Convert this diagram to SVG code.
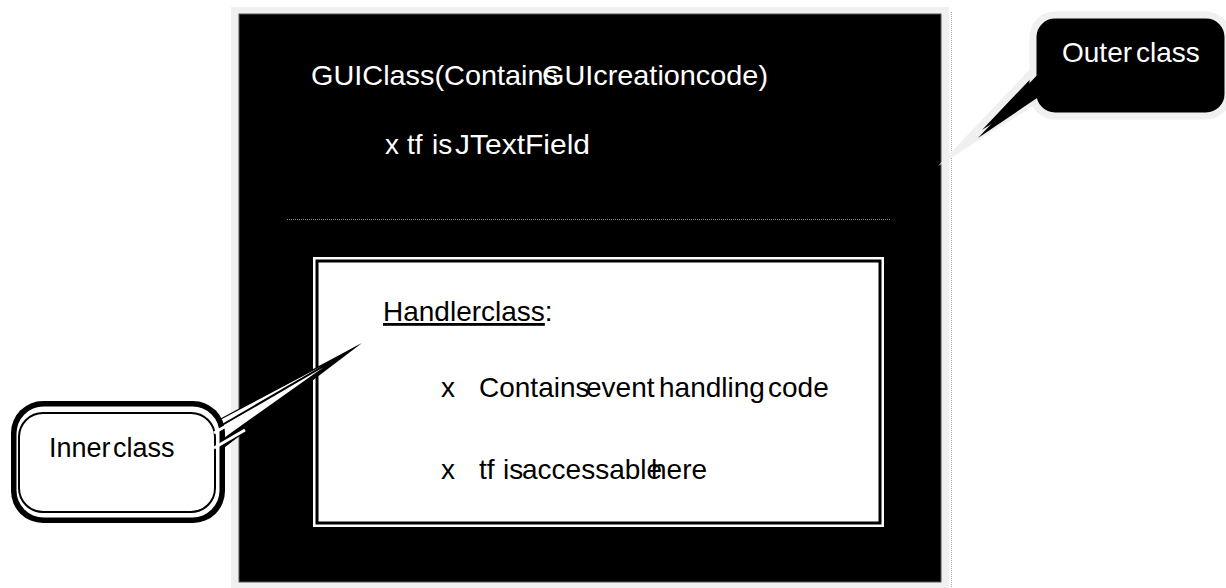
<svg xmlns="http://www.w3.org/2000/svg" width="1226" height="588" viewBox="0 0 1226 588">
  <style>
    .t { font-family: "Liberation Sans", Arial, sans-serif; font-size: 28px; }
    .w { fill: #ffffff; }
    .b { fill: #000000; }
  </style>
  <rect x="0" y="0" width="1226" height="588" fill="#ffffff"/>

  <g id="outer-class">
    <rect x="231" y="7" width="718" height="590" fill="#f0f0f0"/>
    <rect x="239" y="14" width="702" height="568" fill="#000000" stroke="#555555" stroke-width="1"/>
    <line x1="287" y1="219.5" x2="890" y2="219.5" stroke="#8a8a8a" stroke-width="1" stroke-dasharray="1 1"/>
    <text class="t w" y="85"><tspan x="311" textLength="247" lengthAdjust="spacingAndGlyphs">GUIClass(Contains</tspan><tspan x="542" textLength="226" lengthAdjust="spacingAndGlyphs">GUIcreationcode)</tspan></text>
    <text class="t w" y="154"><tspan x="385">x</tspan><tspan x="407">tf</tspan><tspan x="432">is</tspan><tspan x="455" textLength="135" lengthAdjust="spacingAndGlyphs">JTextField</tspan></text>
  </g>

  <line x1="951.5" y1="12" x2="951.5" y2="588" stroke="#a8a8a8" stroke-width="1" stroke-dasharray="1 1"/>

  <g id="handler-class">
    <rect x="313" y="257" width="571" height="270" fill="#ffffff"/>
    <rect x="317" y="261" width="563" height="262" fill="#ffffff" stroke="#000000" stroke-width="3"/>
    <text class="t b" y="321"><tspan x="383" text-decoration="underline">Handlerclass</tspan><tspan>:</tspan></text>
    <text class="t b" y="397"><tspan x="441">x</tspan><tspan x="479">Contains</tspan><tspan x="586">event</tspan><tspan x="659">handling</tspan><tspan x="768">code</tspan></text>
    <text class="t b" y="479"><tspan x="441">x</tspan><tspan x="479">tf</tspan><tspan x="503">is</tspan><tspan x="522">accessable</tspan><tspan x="651">here</tspan></text>
  </g>

  <g id="connectors">
    <!-- Outer class callout pointer -->
    <path d="M1036,68 L960,148 L1036,100 Z" fill="#000000" stroke="#f0f0f0" stroke-width="7" stroke-linejoin="miter" stroke-miterlimit="20"/>
    <!-- Inner class callout pointer -->
    <path d="M212,423 L362,343 L212,457 Z" fill="#000000"/>
    <path d="M205,428 L322,366 L205,452 Z" fill="#ffffff"/>
    <path d="M210,432 L341,356 L210,449" fill="#ffffff" stroke="#000000" stroke-width="2" stroke-linejoin="miter" stroke-miterlimit="30"/>
  </g>

  <g id="outer-callout">
    <rect x="1033" y="15" width="195" height="101" rx="22" ry="22" fill="#000000" stroke="#f0f0f0" stroke-width="7"/>
    <path d="M1040,72 L978,138 L1040,96 Z" fill="#000000"/>
    <text class="t w" y="62"><tspan x="1062">Outer</tspan><tspan x="1136">class</tspan></text>
  </g>

  <g id="inner-callout">
    <rect x="11" y="401" width="214" height="122" rx="32" ry="32" fill="#000000"/>
    <rect x="16.5" y="406.5" width="203" height="111" rx="27" ry="27" fill="#ffffff"/>
    <rect x="19" y="413" width="196" height="99" rx="24" ry="24" fill="#ffffff" stroke="#000000" stroke-width="2"/>
    <path d="M214,433 L250,412 M214,448 L245,430" stroke="#ffffff" stroke-width="3"/>
    <text class="t b" y="457" style="font-size:27px"><tspan x="49">Inner</tspan><tspan x="113">class</tspan></text>
  </g>
</svg>
